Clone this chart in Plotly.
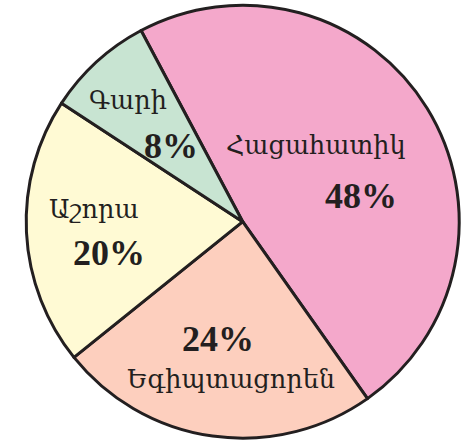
import math
import plotly.graph_objects as go

# ---- data ----
labels = ["Հացահատիկ", "Եգիպտացորեն", "Աշորա", "Գարի"]
values = [48, 24, 20, 8]
pct_text = ["48%", "24%", "20%", "8%"]

# ---- style ----
colors = ["#F4A8CB", "#FDCFBE", "#FFFAD4", "#C8E4D2"]
W, H = 465, 440
CX, CY, R = 242.7, 221.7, 216.5   # pie centre and radius in pixels
ROTATION = -28
# radial fraction of label block, and pixel offsets (name, pct)
block_frac = [0.50, 0.64, 0.654, 0.628]
name_off = [(-19.6, -19.6), (7.7, 20.3), (-7.4, -18.7), (-23.5, -20.7)]
pct_off = [(26.4, 31.4), (-5.3, -19.7), (7.6, 24.3), (19.5, 24.3)]
FONT = "Liberation Serif, DejaVu Serif, serif"
TXT = "#231F20"
NAME_SIZE, PCT_SIZE = 25.5, 36

fig = go.Figure(go.Pie(
    labels=labels, values=values, sort=False, direction="clockwise",
    rotation=ROTATION,
    marker=dict(colors=colors, line=dict(color=TXT, width=3)),
    textinfo="none", hoverinfo="label+percent", showlegend=False,
    domain=dict(x=[(CX - R) / W, (CX + R) / W],
                y=[(H - CY - R) / H, (H - CY + R) / H]),
))

total = sum(values)
cum = 0
annotations = []
for i, v in enumerate(values):
    mid = ROTATION + (cum + v / 2) / total * 360
    cum += v
    a = math.radians(mid)
    px = CX + block_frac[i] * R * math.sin(a)
    py = CY - block_frac[i] * R * math.cos(a)
    xp, yp = px / W, 1 - py / H
    annotations.append(dict(x=xp, y=yp, xref="paper", yref="paper",
                            text=labels[i], showarrow=False,
                            xanchor="center", yanchor="middle",
                            xshift=name_off[i][0], yshift=-name_off[i][1],
                            font=dict(family=FONT, size=NAME_SIZE, color=TXT)))
    annotations.append(dict(x=xp, y=yp, xref="paper", yref="paper",
                            text="<b>" + pct_text[i] + "</b>", showarrow=False,
                            xanchor="center", yanchor="middle",
                            xshift=pct_off[i][0], yshift=-pct_off[i][1],
                            font=dict(family=FONT, size=PCT_SIZE, color=TXT)))

fig.update_layout(width=W, height=H, margin=dict(l=0, r=0, t=0, b=0),
                  paper_bgcolor="white", plot_bgcolor="white",
                  annotations=annotations)
fig.write_html("out.html",
               config={"displayModeBar": False},
               post_script="document.body.style.margin='0';"
                           "document.body.style.overflow='hidden';")
